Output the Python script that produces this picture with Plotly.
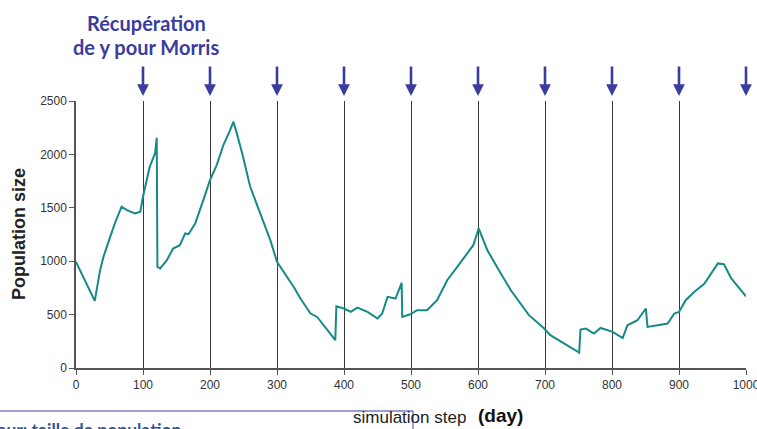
import plotly.graph_objects as go

# ---- data ----
steps = [0, 28, 36, 41, 51, 58, 68, 76, 88, 96, 100, 110, 118, 120.5, 121.5, 125.6, 135.6, 145, 155, 163, 168,
         178, 190, 200, 210, 220, 230, 235, 240, 248, 260, 275, 290, 300, 325, 335, 350, 360, 387, 388.6,
         400, 410, 420, 435, 450, 457, 465, 477, 486, 487, 499, 509, 524, 539, 554, 569, 584, 593, 601,
         614, 634, 649, 676, 698, 708, 728, 751, 753, 761, 773, 783, 801, 816, 823, 838, 850.5, 853, 868,
         883, 893, 900, 910, 923, 938, 950, 958, 967, 978, 1000]
population = [994, 628, 916, 1041, 1228, 1354, 1510, 1478, 1447, 1463, 1603, 1884, 2010, 2156, 947, 932, 1010,
              1119, 1150, 1260, 1253, 1354, 1572, 1760, 1900, 2088, 2228, 2306, 2197, 2010, 1697, 1447, 1197,
              994, 759, 650, 510, 478, 260, 578, 557, 525, 566, 525, 463, 510, 666, 650, 797, 478, 503, 541,
              541, 635, 822, 947, 1072, 1150, 1307, 1103, 885, 728, 495, 375, 307, 229, 144, 360, 369, 322,
              375, 338, 281, 400, 447, 557, 385, 400, 416, 510, 525, 635, 713, 791, 900, 979, 972, 838, 670]
arrow_steps = [100, 200, 300, 400, 500, 600, 700, 800, 900, 1000]
x_ticks = [0, 100, 200, 300, 400, 500, 600, 700, 800, 900, 1000]
y_ticks = [0, 500, 1000, 1500, 2000, 2500]

W, H = 757, 429
L, R, T, B = 76, 11, 101, 61
pw = W - L - R
ph = H - T - B

def px_x(p):
    return (p - L) / pw

def px_y(p):
    return (H - B - p) / ph

FONT = "Arial, Liberation Sans, sans-serif"
TFONT = "Lato, Open Sans, sans-serif"

fig = go.Figure()
fig.add_trace(go.Scatter(x=steps, y=population, mode="lines",
                         line=dict(color="#168a86", width=2), showlegend=False, hoverinfo="skip"))

BLUE = "#3a3c9e"
annotations = []
for s in arrow_steps:
    annotations.append(dict(x=s, xref="x", y=px_y(96), yref="paper", text="",
                            showarrow=True, arrowhead=2, arrowsize=0.9, arrowwidth=2.6,
                            arrowcolor=BLUE, ax=0, ay=-31))

annotations += [
    dict(text="<b>Récupération</b>", x=px_x(146), y=px_y(23),
         xref="paper", yref="paper", showarrow=False, xanchor="center", yanchor="middle",
         font=dict(family=TFONT, size=20, color=BLUE)),
    dict(text="<b>de y pour Morris</b>", x=px_x(146), y=px_y(47),
         xref="paper", yref="paper", showarrow=False, xanchor="center", yanchor="middle",
         font=dict(family=TFONT, size=20, color=BLUE)),
    dict(text="<b>Population size</b>", x=px_x(19), y=px_y(234), xref="paper", yref="paper",
         showarrow=False, textangle=-90, xanchor="center", yanchor="middle",
         font=dict(family=FONT, size=18, color="#222222")),
    dict(text="simulation step", x=px_x(351), y=px_y(417), xref="paper", yref="paper",
         showarrow=False, xanchor="left", yanchor="middle",
         font=dict(family=FONT, size=17, color="#222222")),
    dict(text="<b>(day)</b>", x=px_x(476), y=px_y(415), xref="paper", yref="paper",
         showarrow=False, xanchor="left", yanchor="middle",
         font=dict(family=FONT, size=19, color="#111111")),
    dict(text="<b>Valeur: taille de population</b>", x=px_x(183), y=px_y(417), xref="paper", yref="paper",
         showarrow=False, xanchor="right", yanchor="top",
         font=dict(family=TFONT, size=17.5, color="#2f5597")),
]

shapes = [
    dict(type="line", xref="paper", yref="paper", x0=px_x(0), x1=px_x(413), y0=px_y(411), y1=px_y(411),
         line=dict(color="#3a3f9a", width=1.2)),
    dict(type="line", xref="paper", yref="paper", x0=px_x(413), x1=px_x(413), y0=px_y(411), y1=px_y(432),
         line=dict(color="#3344bb", width=1)),
]

fig.update_layout(
    width=W, height=H, autosize=False, margin=dict(l=L, r=R, t=T, b=B, autoexpand=False),
    paper_bgcolor="white", plot_bgcolor="white",
    annotations=annotations, shapes=shapes,
    xaxis=dict(range=[0, 1000], tickvals=x_ticks, showgrid=True, gridcolor="#3a3a3a", gridwidth=1,
               showline=True, linecolor="#555555", linewidth=1.5, ticks="outside", ticklen=5,
               tickcolor="#555555", zeroline=False, ticklabeloverflow="allow", automargin=False,
               tickfont=dict(family=FONT, size=12, color="#333333")),
    yaxis=dict(range=[0, 2500], tickvals=y_ticks, showgrid=False, showline=True, linecolor="#555555",
               linewidth=1.5, ticks="outside", ticklen=5, tickcolor="#555555", zeroline=False,
               automargin=False,
               tickfont=dict(family=FONT, size=12, color="#333333")),
)

fig.write_html("out.html",
               config={"displayModeBar": False, "responsive": False},
               post_script="document.body.style.margin='0';document.body.style.overflow='hidden';")
